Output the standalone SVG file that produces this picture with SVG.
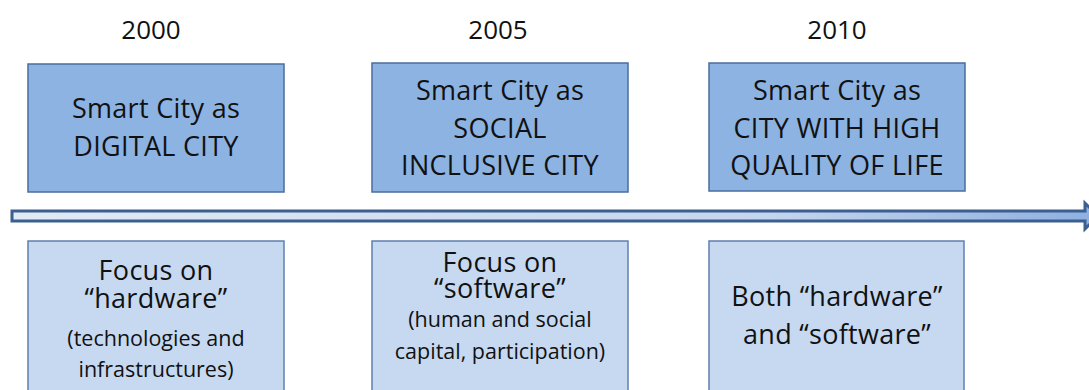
<svg xmlns="http://www.w3.org/2000/svg" width="1089" height="390" viewBox="0 0 1089 390">
<defs>
<style>
text{font-family:"Open Sans","Noto Sans",sans-serif;fill:#111;text-anchor:middle}
.y{font-size:26px}
.m{font-size:27px;letter-spacing:0.3px}
.s{font-size:21.5px;font-weight:500}
.top{fill:#8db3e2;stroke:#4a6e9f;stroke-width:1.5}
.bot{fill:#c6d9f1;stroke:#5f7fae;stroke-width:1.5}
</style>
<linearGradient id="ag" x1="0" y1="0" x2="1" y2="0">
<stop offset="0" stop-color="#e2eaf5"/>
<stop offset="0.7" stop-color="#c4d5ee"/>
<stop offset="1" stop-color="#8eafe0"/>
</linearGradient>
</defs>
<rect width="1089" height="390" fill="#fff"/>
<g id="connectors">
<path d="M12,211 L1085,211 L1085,203 L1098,216 L1085,229 L1085,221 L12,221 Z" fill="url(#ag)" stroke="#3b5f8e" stroke-width="3" stroke-linejoin="miter"/>
</g>
<g id="year2000"><text class="y" x="151" y="39">2000</text></g>
<g id="year2005"><text class="y" x="498" y="39">2005</text></g>
<g id="year2010"><text class="y" x="837" y="39">2010</text></g>
<g id="digital">
<rect class="top" x="28" y="64" width="256" height="128"/>
<text class="m" x="156" y="118">Smart City as</text>
<text class="m" x="156" y="156">DIGITAL CITY</text>
</g>
<g id="social">
<rect class="top" x="372" y="63" width="256" height="129"/>
<text class="m" x="500" y="100">Smart City as</text>
<text class="m" x="500" y="138">SOCIAL</text>
<text class="m" x="500" y="175">INCLUSIVE CITY</text>
</g>
<g id="quality">
<rect class="top" x="709" y="63" width="256" height="128"/>
<text class="m" x="837" y="100">Smart City as</text>
<text class="m" x="837" y="138">CITY WITH HIGH</text>
<text class="m" x="837" y="175">QUALITY OF LIFE</text>
</g>
<g id="hardware">
<rect class="bot" x="28" y="241" width="256" height="155"/>
<text class="m" x="156" y="280">Focus on</text>
<text class="m" x="156" y="308">“hardware”</text>
<text class="s" x="156" y="346">(technologies and</text>
<text class="s" x="156" y="377">infrastructures)</text>
</g>
<g id="software">
<rect class="bot" x="372" y="241" width="256" height="155"/>
<text class="m" x="500" y="272">Focus on</text>
<text class="m" x="500" y="298">“software”</text>
<text class="s" x="500" y="327">(human and social</text>
<text class="s" x="500" y="359">capital, participation)</text>
</g>
<g id="both">
<rect class="bot" x="709" y="241" width="255" height="155"/>
<text class="m" x="837" y="306">Both “hardware”</text>
<text class="m" x="837" y="344">and “software”</text>
</g>
</svg>
